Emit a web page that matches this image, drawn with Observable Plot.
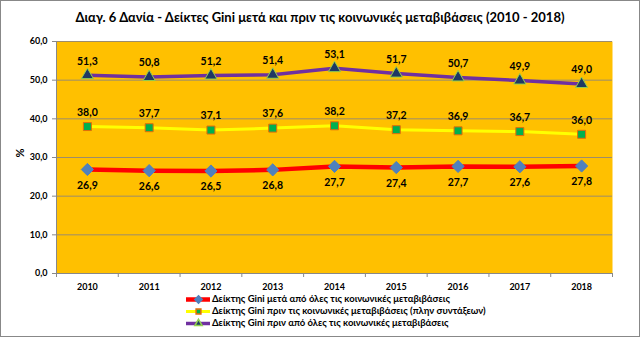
<!DOCTYPE html>
<html><head><meta charset="utf-8">
<script src="https://cdn.jsdelivr.net/npm/d3@7"></script>
<script src="https://cdn.jsdelivr.net/npm/@observablehq/plot@0.6"></script>
<style>
body{margin:0;background:#fff;font-family:Lato,"Open Sans",sans-serif;}
#wrap{position:relative;width:638px;height:335px;border:1px solid #888;background:#fff;overflow:hidden;}
#title{position:absolute;top:8px;left:0;width:638px;text-align:center;font-weight:bold;font-size:13px;color:#000;}
#chart{position:absolute;top:30px;left:0;}
#legend{position:absolute;top:292px;left:185px;font-size:9.5px;font-weight:700;line-height:12px;}
#legend div{display:flex;align-items:center;height:12px;}
#legend span{font-weight:700;font-family:Lato,sans-serif;}
#legend svg{margin-right:2px;}
</style></head>
<body><div id="wrap"><div id="title">Διαγ. 6 Δανία - Δείκτες Gini μετά και πριν τις κοινωνικές μεταβιβάσεις (2010 - 2018)</div><div id="chart"></div><div id="legend"></div></div>
<script>
const years = [2010,2011,2012,2013,2014,2015,2016,2017,2018];
const afterAll = [26.9,26.6,26.5,26.8,27.7,27.4,27.7,27.6,27.8];
const beforeNoPensions = [38.0,37.7,37.1,37.6,38.2,37.2,36.9,36.7,36.0];
const beforeAll = [51.3,50.8,51.2,51.4,53.1,51.7,50.7,49.9,49.0];
const seriesNames = [
  "Δείκτης Gini μετά από όλες τις κοινωνικές μεταβιβάσεις",
  "Δείκτης Gini πριν τις κοινωνικές μεταβιβάσεις (πλην συντάξεων)",
  "Δείκτης Gini πριν από όλες τις κοινωνικές μεταβιβάσεις"
];
const yTicks = [0,10,20,30,40,50,60];

const styles = [
  {line:"#FF0000", w:4.5, sym:"diamond2", fill:"#4F81BD", stroke:"#4F81BD", r:5.5, dy:16},
  {line:"#FFFF00", w:3, sym:"square", fill:"#00B050", stroke:"#E46C0A", r:4.5, dy:-14},
  {line:"#7030A0", w:3.5, sym:"triangle", fill:"#1F3864", stroke:"#92D050", r:4.5, dy:-14}
];
const values = [afterAll, beforeNoPensions, beforeAll];
const data = values.map((vals,i)=>years.map((y,j)=>({year:y, value:vals[j], s:i})));
const fmt = v => v.toFixed(1).replace(".", ",");
const boundaries = years.map(y=>y-0.5).concat([years[years.length-1]+0.5]);

const marks = [
  Plot.frame({fill:"#FFC000", stroke:null}),
  Plot.gridY(yTicks, {stroke:"#9c8c6c", strokeOpacity:1, strokeWidth:1}),
  Plot.ruleX([years[0]-0.5], {stroke:"#888"}),
  Plot.ruleY([0], {stroke:"#888"}),
  Plot.axisY(yTicks, {tickFormat:fmt, tickSize:4, stroke:"#888", fontWeight:"bold", fontSize:9, label:null}),
  Plot.axisX(years, {tickFormat:d=>String(d), tickSize:0, tickPadding:10, fontWeight:"bold", fontSize:9, label:null}),
  Plot.axisX(boundaries, {tickFormat:()=>"", tickSize:4, stroke:"#888", label:null}),
  Plot.text(["%"], {frameAnchor:"left", dx:-36, rotate:-90, fontSize:11, fontWeight:"bold"})
];
data.forEach((d,i)=>{
  const st = styles[i];
  marks.push(Plot.line(d, {x:"year", y:"value", stroke:st.line, strokeWidth:st.w}));
});
data.forEach((d,i)=>{
  const st = styles[i];
  marks.push(Plot.dot(d, {x:"year", y:"value", symbol:()=>st.sym, fill:st.fill, stroke:st.stroke, strokeWidth:1, r:st.r}));
  marks.push(Plot.text(d, {x:"year", y:"value", text:d=>fmt(d.value), dy:st.dy, fontSize:10.5, fontWeight:"bold", fill:"#000"}));
});

const chart = Plot.plot({
  width:638, height:262,
  marginLeft:55, marginRight:27, marginTop:10, marginBottom:20,
  style:{fontFamily:"Lato, 'Open Sans', sans-serif", color:"#000", background:"transparent"},
  x:{type:"linear", domain:[years[0]-0.5, years[years.length-1]+0.5]},
  y:{domain:[0,60]},
  symbol:{type:"identity"},
  marks
});
document.getElementById("chart").appendChild(chart);

// legend
const leg = document.getElementById("legend");
seriesNames.forEach((name,i)=>{
  const st = styles[i];
  const row = document.createElement("div");
  const sw = Plot.plot({
    width:24, height:12, margin:0,
    x:{domain:[0,1], axis:null}, y:{domain:[0,1], axis:null},
    symbol:{type:"identity"},
    style:{background:"transparent"},
    marks:[
      Plot.ruleY([0.5], {x1:0, x2:1, stroke:st.line, strokeWidth:st.w}),
      Plot.dot([0.5], {x:0.5, y:0.5, symbol:()=>st.sym, fill:st.fill, stroke:st.stroke, r:st.r*0.6})
    ]
  });
  row.appendChild(sw);
  const t = document.createElement("span");
  t.textContent = name;
  row.appendChild(t);
  leg.appendChild(row);
});
</script></body></html>
